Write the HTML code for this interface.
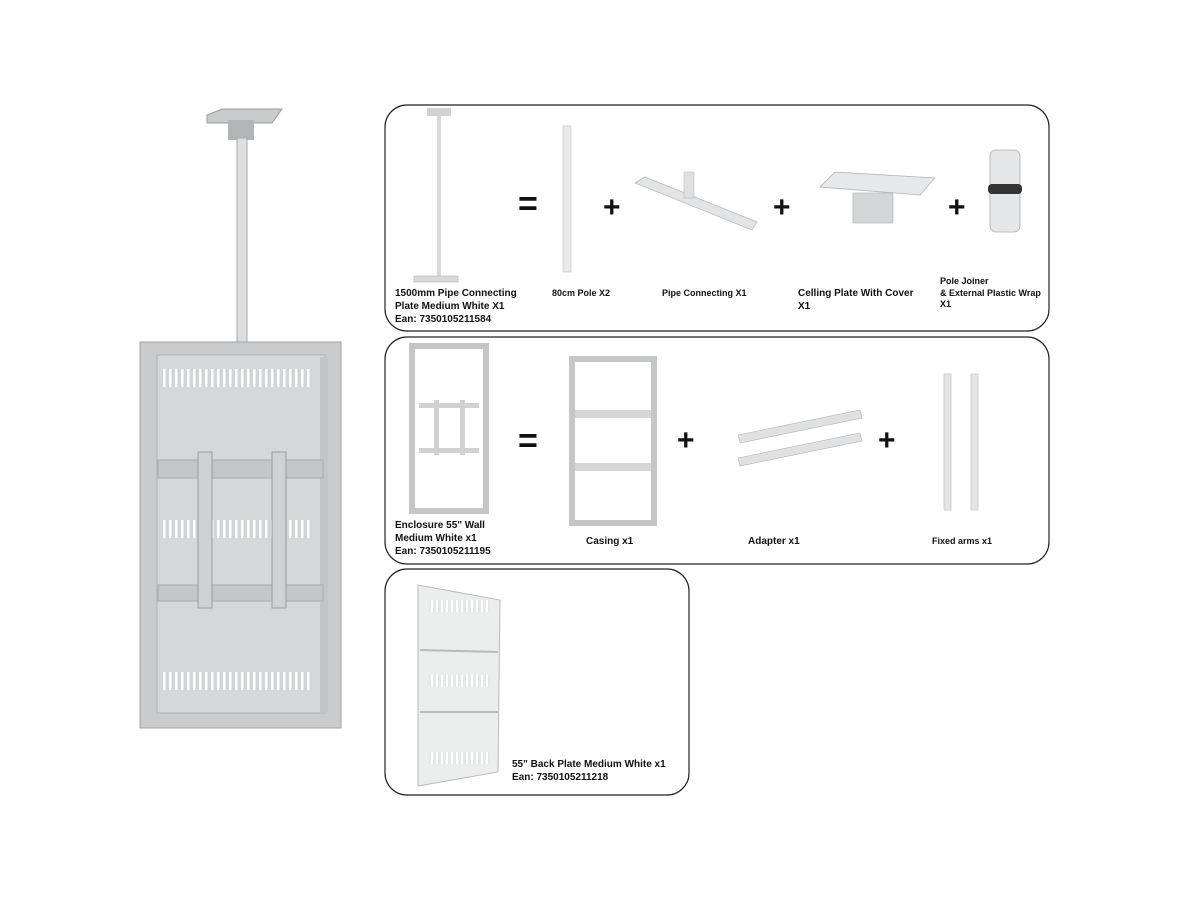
<!DOCTYPE html>
<html><head><meta charset="utf-8"><style>
html,body{margin:0;padding:0;background:#fff}
svg{display:block}
text{font-family:"Liberation Sans",Arial,sans-serif;font-weight:bold;font-size:10px;fill:#111}
</style></head><body>
<svg width="1200" height="900" viewBox="0 0 1200 900" xmlns="http://www.w3.org/2000/svg">
<defs>
<pattern id="vent" width="6" height="400" patternUnits="userSpaceOnUse"><rect width="6" height="400" fill="#d2d4d6"/><rect x="1" y="0" width="2.5" height="400" fill="#fff"/></pattern>
<pattern id="vents" width="5" height="400" patternUnits="userSpaceOnUse"><rect width="5" height="400" fill="#e6e7e8"/><rect x="1" y="0" width="2" height="400" fill="#fff"/></pattern>
</defs>
<polygon points="207,115 222,109 282,109 272,123 207,123" fill="#c8cacc" stroke="#9a9c9e" stroke-width="1"/>
<rect x="228" y="120" width="26" height="20" fill="#b2b4b6"/>
<rect x="237" y="138" width="10" height="210" fill="#dcdedf" stroke="#a8aaac" stroke-width="1"/>
<rect x="140" y="342" width="201" height="386" fill="#c9cbcd" stroke="#a0a2a4"/>
<rect x="157" y="355" width="168" height="358" fill="#d5d7d9" stroke="#b0b2b4"/>
<rect x="320" y="357" width="8" height="356" fill="#c2c4c6"/>
<rect x="162" y="369" width="150" height="18" fill="url(#vent)"/>
<rect x="162" y="520" width="150" height="18" fill="url(#vent)"/>
<rect x="162" y="672" width="150" height="18" fill="url(#vent)"/>
<rect x="158" y="460" width="165" height="18" fill="#c4c6c8" stroke="#a8aaac"/>
<rect x="158" y="585" width="165" height="16" fill="#c4c6c8" stroke="#a8aaac"/>
<rect x="198" y="452" width="14" height="156" fill="#cfd1d3" stroke="#9a9c9e"/>
<rect x="272" y="452" width="14" height="156" fill="#cfd1d3" stroke="#9a9c9e"/>

<rect x="385" y="105" width="664" height="226" rx="22" fill="none" stroke="#222" stroke-width="1.2"/>
<rect x="437" y="115" width="4" height="165" fill="#d8d9da"/>
<rect x="427" y="108" width="24" height="8" fill="#d0d2d4"/>
<rect x="414" y="276" width="44" height="6" fill="#d8d9da" stroke="#b0b2b4" stroke-width="0.6"/>
<rect x="563" y="126" width="8" height="146" fill="#e8e9ea" stroke="#c0c2c4" stroke-width="0.6"/>
<polygon points="635,183 645,177 757,222 752,230" fill="#e3e4e5" stroke="#b8babc" stroke-width="0.8"/>
<rect x="684" y="172" width="10" height="26" fill="#dfe0e1" stroke="#b8babc" stroke-width="0.6"/>
<polygon points="820,187 835,172 935,178 920,195" fill="#e7e8e9" stroke="#b0b2b4" stroke-width="0.8"/>
<rect x="853" y="193" width="40" height="30" fill="#d4d6d8" stroke="#a8aaac" stroke-width="0.6"/>
<rect x="990" y="150" width="30" height="82" rx="6" fill="#e6e7e8" stroke="#a8aaac" stroke-width="0.8"/>
<rect x="988" y="184" width="34" height="10" rx="4" fill="#333"/>
<text x="518" y="215" style="font-size:34px">=</text>
<text x="603" y="217" style="font-size:30px">+</text>
<text x="773" y="217" style="font-size:30px">+</text>
<text x="948" y="217" style="font-size:30px">+</text>
<text x="395" y="296">1500mm Pipe Connecting</text>
<text x="395" y="309">Plate Medium White X1</text>
<text x="395" y="322">Ean: 7350105211584</text>
<text x="552" y="296" style="font-size:9px">80cm Pole X2</text>
<text x="662" y="296" style="font-size:9px">Pipe Connecting X1</text>
<text x="798" y="296">Celling Plate With Cover</text>
<text x="798" y="309">X1</text>
<text x="940" y="284" style="font-size:9px">Pole Joiner</text>
<text x="940" y="296" style="font-size:9px">&amp; External Plastic Wrap</text>
<text x="940" y="307" style="font-size:9px">X1</text>

<rect x="385" y="337" width="664" height="227" rx="22" fill="none" stroke="#222" stroke-width="1.2"/>
<rect x="412" y="346" width="74" height="165" fill="none" stroke="#c4c6c8" stroke-width="6"/>
<rect x="419" y="403" width="60" height="5" fill="#cfd1d3"/>
<rect x="419" y="448" width="60" height="5" fill="#cfd1d3"/>
<rect x="434" y="400" width="5" height="55" fill="#cfd1d3"/>
<rect x="460" y="400" width="5" height="55" fill="#cfd1d3"/>
<rect x="572" y="359" width="82" height="164" fill="none" stroke="#c4c6c8" stroke-width="6"/>
<rect x="575" y="410" width="76" height="8" fill="#d4d6d8"/>
<rect x="575" y="463" width="76" height="8" fill="#d4d6d8"/>
<polygon points="738,435 860,410 862,418 740,443" fill="#e0e1e2" stroke="#b0b2b4" stroke-width="0.6"/>
<polygon points="738,458 860,433 862,441 740,466" fill="#e0e1e2" stroke="#b0b2b4" stroke-width="0.6"/>
<rect x="944" y="374" width="7" height="136" fill="#e4e5e6" stroke="#b8babc" stroke-width="0.6"/>
<rect x="971" y="374" width="7" height="136" fill="#e4e5e6" stroke="#b8babc" stroke-width="0.6"/>
<text x="518" y="452" style="font-size:34px">=</text>
<text x="677" y="450" style="font-size:30px">+</text>
<text x="878" y="450" style="font-size:30px">+</text>
<text x="395" y="528">Enclosure 55" Wall</text>
<text x="395" y="541">Medium White x1</text>
<text x="395" y="554">Ean: 7350105211195</text>
<text x="586" y="544">Casing x1</text>
<text x="748" y="544">Adapter x1</text>
<text x="932" y="544" style="font-size:9px">Fixed arms x1</text>

<rect x="385" y="569" width="304" height="226" rx="22" fill="none" stroke="#222" stroke-width="1.2"/>
<polygon points="418,585 500,600 498,772 418,786" fill="#eceded" stroke="#b8babc" stroke-width="1"/>
<line x1="420" y1="650" x2="498" y2="652" stroke="#b8babc" stroke-width="2"/>
<line x1="420" y1="712" x2="498" y2="712" stroke="#b8babc" stroke-width="2"/>
<rect x="428" y="600" width="62" height="12" fill="url(#vents)"/>
<rect x="428" y="675" width="62" height="12" fill="url(#vents)"/>
<rect x="428" y="752" width="62" height="12" fill="url(#vents)"/>
<text x="512" y="767">55" Back Plate Medium White x1</text>
<text x="512" y="780">Ean: 7350105211218</text>
</svg>
</body></html>
